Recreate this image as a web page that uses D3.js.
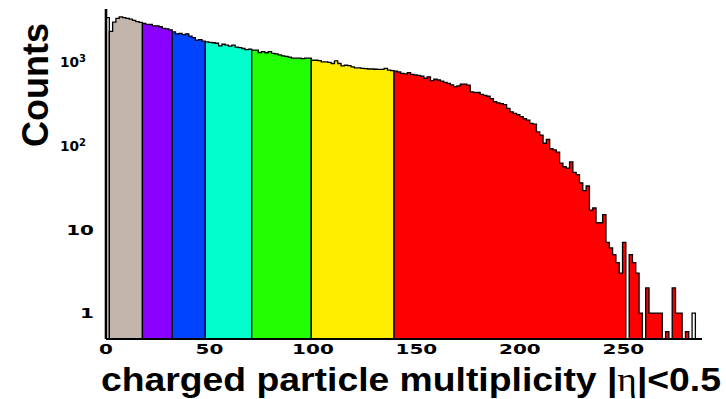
<!DOCTYPE html>
<html>
<head>
<meta charset="utf-8">
<script src="https://cdn.jsdelivr.net/npm/d3@7"></script>
<style>
  html, body { margin: 0; padding: 0; background: #ffffff; }
  svg { display: block; }
</style>
</head>
<body>
<svg id="chart" width="726" height="399"></svg>
<script>
// Charged-particle multiplicity distribution, |eta| < 0.5, split into event classes.
const binWidth = 1.6;
const xRange = [0, 288];

// Counts per bin (bin i covers [i*binWidth, (i+1)*binWidth)).
const counts = [
  3400, 2320, 3000, 3320, 3470, 3400, 3320, 3250, 3150, 3030,
  2980, 2890, 2820, 2820, 2710, 2710, 2640, 2530, 2490, 2420,
  2290, 2170, 2200, 2130, 2170, 2040, 1960, 1830, 1850, 1775,
  1745, 1720, 1700, 1675, 1560, 1630, 1590, 1550, 1590, 1510,
  1485, 1450, 1410, 1420, 1390, 1390, 1300, 1330, 1290, 1330,
  1270, 1250, 1215, 1185, 1165, 1145, 1110, 1110, 1110, 1100,
  1110, 1112, 1050, 1050, 1040, 1005, 1005, 990, 960, 1030,
  960, 900, 915, 905, 875, 850, 850, 840, 835, 825,
  825, 820, 815, 815, 840, 800, 790, 778, 760, 730,
  720, 747, 712, 700, 694, 676, 640, 665, 600, 625,
  610, 590, 570, 556, 532, 508, 518, 545, 545, 530,
  440, 432, 432, 410, 400, 390, 366, 335, 325, 318,
  310, 280, 254, 243, 235, 222, 210, 202, 185, 181,
  146, 134, 107, 119, 92, 89, 84, 62, 56, 54,
  64, 48, 45, 36, 29, 33, 17, 18, 12, 12,
  15, 7, 6, 5, 4, 3, 7, 0, 5, 4,
  3, 1, 0, 2, 1, 1, 1, 1, 0, 0.6,
  0, 2, 1, 1, 0, 0.6, 0, 1, 0, 0
];

// Event classes: bin edges (class k spans classEdges[k] .. classEdges[k+1]) and fill colours.
const classEdges = [1, 11, 20, 30, 44, 62, 87, 177];
const classColors = ["#c2b5ab", "#8a00ff", "#0044ff", "#00ffcc", "#22ff00", "#ffee00", "#ff0000"];

const xTicks = [0, 50, 100, 150, 200, 250];
const yTicks = [1, 10, 100, 1000];
const yTickBase = ["1", "10", "10", "10"];
const yTickExp = ["", "", "2", "3"];

const xLabel = "charged particle multiplicity ";
const yLabel = "Counts";

const svg = d3.select("#chart");

const x = d3.scaleLinear().domain(xRange).range([106, 702]);
const y = d3.scaleLog().domain([0.49, 4300]).range([339, 9]);
const yBottom = y.range()[0];
const yv = c => (c > 0 ? y(c) : yBottom);

// Filled class histograms, each outlined as a closed polygon.
for (let k = 0; k < classColors.length; k++) {
  const a = classEdges[k], b = classEdges[k + 1];
  const pts = [[x(a * binWidth), yBottom]];
  for (let i = a; i < b; i++) {
    pts.push([x(i * binWidth), yv(counts[i])]);
    pts.push([x((i + 1) * binWidth), yv(counts[i])]);
  }
  pts.push([x(b * binWidth), yBottom]);
  svg.append("path")
    .attr("d", d3.line()(pts) + "Z")
    .attr("fill", classColors[k])
    .attr("stroke", "#000")
    .attr("stroke-width", 1.3)
    .attr("stroke-linejoin", "miter");
}

// Bins outside every class: outline only.
const first = classEdges[0], last = classEdges[classEdges.length - 1];
counts.forEach((c, i) => {
  if (c <= 0 || (i >= first && i < last)) return;
  const x0 = x(i * binWidth), x1 = x((i + 1) * binWidth);
  svg.append("path")
    .attr("d", d3.line()([[x0, yBottom], [x0, y(c)], [x1, y(c)], [x1, yBottom]]))
    .attr("fill", "none")
    .attr("stroke", "#000")
    .attr("stroke-width", 1.3);
});

// Axis lines.
svg.append("line")
  .attr("x1", x.range()[0]).attr("x2", x.range()[1])
  .attr("y1", yBottom).attr("y2", yBottom)
  .attr("stroke", "#000").attr("stroke-width", 2);
svg.append("line")
  .attr("x1", x.range()[0]).attr("x2", x.range()[0])
  .attr("y1", y.range()[1]).attr("y2", yBottom)
  .attr("stroke", "#000").attr("stroke-width", 2.6);

// X tick labels (wide bold digits).
svg.append("g").selectAll("text").data(xTicks).join("text")
  .attr("transform", d => `translate(${x(d)},354) scale(1.36,1)`)
  .attr("text-anchor", "middle")
  .attr("font-family", "DejaVu Sans")
  .attr("font-weight", "bold")
  .attr("font-size", 14.7)
  .text(d => d);

// Y tick labels.
yTicks.forEach((v, i) => {
  const ty = y(v);
  if (yTickExp[i] === "") {
    svg.append("text")
      .attr("transform", `translate(94,${ty + 5.3}) scale(1.36,1)`)
      .attr("text-anchor", "end")
      .attr("font-family", "DejaVu Sans")
      .attr("font-weight", "bold")
      .attr("font-size", 14.7)
      .text(yTickBase[i]);
  } else {
    const t = svg.append("text")
      .attr("x", 86).attr("y", ty + 5)
      .attr("text-anchor", "end")
      .attr("font-family", "DejaVu Sans")
      .attr("font-weight", "bold")
      .attr("font-size", 13.7);
    t.append("tspan").text(yTickBase[i]);
    t.append("tspan").attr("dy", -5).attr("font-size", 10).text(yTickExp[i]);
  }
});

// Axis titles.
svg.append("text")
  .attr("transform", "translate(48,85) rotate(-90)")
  .attr("text-anchor", "middle")
  .attr("font-family", "Liberation Sans")
  .attr("font-weight", "bold")
  .attr("font-size", 36)
  .text(yLabel);

const title = svg.append("text")
  .attr("x", 101).attr("y", 391)
  .attr("font-family", "Liberation Sans")
  .attr("font-weight", "bold")
  .attr("font-size", 34)
  .attr("textLength", 620)
  .attr("lengthAdjust", "spacingAndGlyphs");
title.append("tspan").text(xLabel + "|");
title.append("tspan").attr("font-family", "Liberation Serif").attr("font-weight", "normal").text("η");
title.append("tspan").text("|<0.5");
</script>
</body>
</html>
